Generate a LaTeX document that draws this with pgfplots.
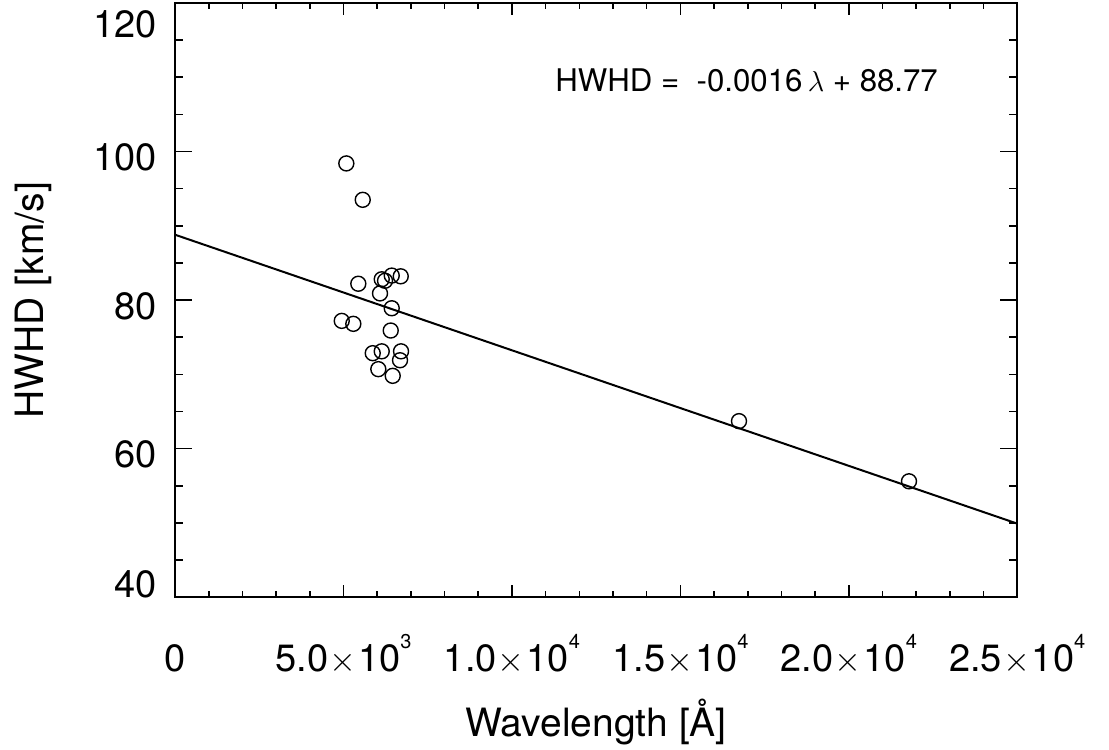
\documentclass[border=0pt]{standalone}
\usepackage{fontspec}
\setmainfont{TeX Gyre Heros}
\usepackage{pgfplots}
\pgfplotsset{compat=1.18}
\usetikzlibrary{calc}

% exponent for the x tick labels
\newcommand\ex[1]{\raisebox{11.5pt}{\fontsize{10}{10}\selectfont #1}}
\newcommand\tm{\hspace{0.5pt}$\times$\hspace{1pt}}

\begin{document}
\begin{tikzpicture}
\begin{axis}[name=ax, scale only axis, width=421pt, height=297pt,
    xmin=0, xmax=25000, ymin=40, ymax=120,
    xtick={0,5000,10000,15000,20000,25000},
    ytick={40,60,80,100,120},
    minor x tick num=4, minor y tick num=3,
    xticklabels={0, 5.0\tm10\ex{3}, 1.0\tm10\ex{4}, 1.5\tm10\ex{4}, 2.0\tm10\ex{4}, 2.5\tm10\ex{4}},
    yticklabels={\raisebox{0pt}{40}, \raisebox{-9.5pt}{60}, \raisebox{-9.5pt}{80},
                 \raisebox{-9.5pt}{100}, \raisebox{-17.1pt}{120}},
    xticklabel style={anchor=base, yshift=-37.2pt, inner sep=0pt, font=\fontsize{19}{22}\selectfont},
    yticklabel style={anchor=base east, xshift=-9pt, inner sep=0pt, font=\fontsize{19}{22}\selectfont},
    scaled x ticks=false,
    tick align=inside,
    axis line style={line width=1pt},
    tick style={black, line width=0.8pt},
    major tick length=8.5pt, minor tick length=4.2pt,
    xtick style={/pgfplots/major tick length=6pt, /pgfplots/minor tick length=3pt},
    xlabel={Wavelength [Å]}, ylabel={HWHD [km/s]},
    xlabel style={at={(axis description cs:0.5,-0.2347)}, anchor=base, inner sep=0pt,
                  font=\fontsize{19.5}{23}\selectfont},
    ylabel style={at={(axis description cs:-0.1563,0.5)}, anchor=base, inner sep=0pt,
                  font=\fontsize{19.5}{23}\selectfont},
    clip=false]

  % fitted line
  \addplot[black, line width=1pt] coordinates {(0,88.8) (25000,49.9)};

  \addplot[only marks, mark=o, mark size=3.75pt, mark options={line width=0.7pt, black}] table {
    x      y
    5084   98.4
    5571   93.5
    5440   82.2
    6135   82.8
    6233   82.6
    6432   83.3
    6699   83.2
    6084   80.9
    6432   78.9
    4948   77.2
    5292   76.8
    6402   75.9
    5868   72.85
    6135   73.1
    6708   73.1
    6678   71.9
    6034   70.7
    6461   69.8
    16740  63.7
    21786  55.6
  };

  \node[anchor=base west, inner sep=0pt, font=\fontsize{15.6}{18}\selectfont]
    at (axis cs:11279,108.06) {HWHD =\ \ -0.0016\,$\lambda$ + 88.77};
\end{axis}
\pgfresetboundingbox
\path[use as bounding box] ($(ax.south west)+(-87.5pt,-76.35pt)$) rectangle ($(ax.north east)+(45.85pt,1.5pt)$);
\end{tikzpicture}
\end{document}
